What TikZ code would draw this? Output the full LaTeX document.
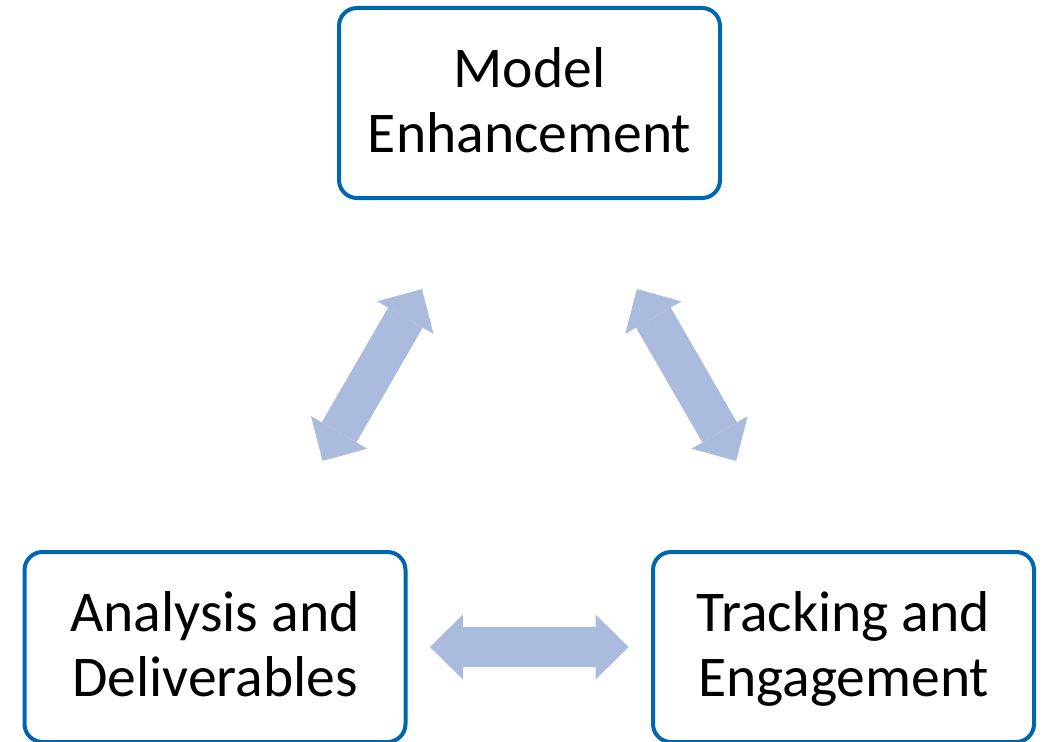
\documentclass[tikz,border=0pt]{standalone}
\usepackage{fontspec}
\setmainfont{Carlito}
\usetikzlibrary{arrows.meta,calc}
\definecolor{boxline}{RGB}{0,102,178}
\definecolor{arrowfill}{RGB}{170,187,222}

\begin{document}
\begin{tikzpicture}[x=0.5pt,y=0.5pt,
  stage/.style={draw=boxline,line width=2pt,rounded corners=9pt,fill=white,
    minimum width=190.5pt,minimum height=95pt,align=center,text depth=3pt,
    font=\fontsize{28.8pt}{32.8pt}\selectfont},
  link/.style={arrowfill,line width=20pt,
    {Triangle[width=32.5pt,length=16.5pt,line width=0pt]}-{Triangle[width=32.5pt,length=16.5pt,line width=0pt]}}]
  \useasboundingbox (0,0) rectangle (1043,741);
  \node[stage] (model) at (529.5,638) {Model\\Enhancement};
  \node[stage] (analysis) at (215,94) {Analysis and\\Deliverables};
  \node[stage] (tracking) at (843.5,94) {Tracking and\\Engagement};
  \draw[link] ($(analysis)!0.342!(model)$) -- ($(analysis)!0.658!(model)$);
  \draw[link] ($(model)!0.342!(tracking)$) -- ($(model)!0.658!(tracking)$);
  \draw[link] ($(analysis)!0.342!(tracking)$) -- ($(analysis)!0.658!(tracking)$);
\end{tikzpicture}
\end{document}
